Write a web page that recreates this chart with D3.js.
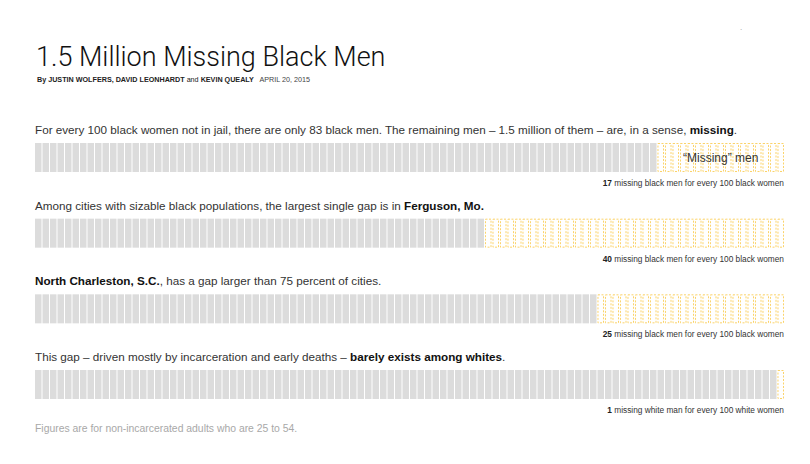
<!DOCTYPE html>
<html>
<head>
<meta charset="utf-8">
<script src="https://cdn.jsdelivr.net/npm/d3@7"></script>
<style>
  body { margin: 0; background: #fff; }
  svg text { font-family: "Liberation Sans", Arial, sans-serif; }
</style>
</head>
<body>
<svg id="chart" width="810" height="464"></svg>
<script>
// chart data
var groups = ["All black adults", "Ferguson, Mo.", "North Charleston, S.C.", "Whites"];
var menPer100 = [83, 60, 75, 99];
var missingPer100 = [17, 40, 25, 1];
var noteTexts = [
  " missing black men for every 100 black women",
  " missing black men for every 100 black women",
  " missing black men for every 100 black women",
  " missing white man for every 100 white women"
];
// sentence pieces: [text, bold?]
var sentences = [
  [["For every 100 black women not in jail, there are only 83 black men. The remaining men \u2013 1.5 million of them \u2013 are, in a sense, ", false], ["missing", true], [".", false]],
  [["Among cities with sizable black populations, the largest single gap is in ", false], ["Ferguson, Mo.", true]],
  [["North Charleston, S.C.", true], [", has a gap larger than 75 percent of cities.", false]],
  [["This gap \u2013 driven mostly by incarceration and early deaths \u2013 ", false], ["barely exists among whites", true], [".", false]]
];

var svg = d3.select("#chart");

// header
svg.append("text")
  .attr("x", 36).attr("y", 66)
  .style("font-family", "Roboto, sans-serif")
  .style("font-weight", 300)
  .style("font-size", "27px")
  .attr("fill", "#111")
  .text("1.5 Million Missing Black Men");

var by = svg.append("text")
  .attr("x", 37).attr("y", 82)
  .style("font-size", "7.2px")
  .attr("fill", "#222");
by.append("tspan").style("font-weight", "bold").text("By JUSTIN WOLFERS, DAVID LEONHARDT ");
by.append("tspan").text("and ");
by.append("tspan").style("font-weight", "bold").text("KEVIN QUEALY");
by.append("tspan").attr("fill", "#444").text("   APRIL 20, 2015").attr("xml:space", "preserve");

// scales
var x = d3.scaleBand()
  .domain(d3.range(100))
  .range([35, 784])
  .paddingInner(0.13);

var y = d3.scaleLinear()
  .domain([0, 3])
  .range([143, 370]);

var barH = 29;

var rowG = svg.selectAll("g.row")
  .data(groups)
  .enter().append("g")
  .attr("class", "row")
  .attr("transform", function(d, i){ return "translate(0," + y(i) + ")"; });

// sentence above each bar
rowG.append("text")
  .attr("x", 35)
  .attr("y", -9)
  .style("font-size", "11.7px")
  .attr("fill", "#333")
  .each(function(d, i){
    var t = d3.select(this);
    sentences[i].forEach(function(p){
      t.append("tspan")
        .style("font-weight", p[1] ? "bold" : "normal")
        .attr("fill", p[1] ? "#111" : "#333")
        .text(p[0]);
    });
  });

// cells
rowG.each(function(d, i){
  var g = d3.select(this);
  var cells = d3.range(100).map(function(k){ return {k: k, present: k < menPer100[i]}; });
  g.selectAll("rect.cell")
    .data(cells)
    .enter().append("rect")
    .attr("class", "cell")
    .attr("x", function(c){ return c.present ? x(c.k) : x(c.k) + 0.5; })
    .attr("y", function(c){ return c.present ? 0 : 0.5; })
    .attr("width", function(c){ return c.present ? x.bandwidth() : x.bandwidth() - 1; })
    .attr("height", function(c){ return c.present ? barH : barH - 1; })
    .attr("fill", function(c){ return c.present ? "#dcdcdc" : "#ffffff"; })
    .attr("stroke", function(c){ return c.present ? "none" : "#fbd36a"; })
    .attr("stroke-width", 1)
    .attr("stroke-dasharray", "2,1.5");
});

// "Missing" men label in the first bar
svg.append("text")
  .attr("x", (x(menPer100[0]) + x(99) + x.bandwidth()) / 2)
  .attr("y", y(0) + 19)
  .attr("text-anchor", "middle")
  .style("font-size", "12px")
  .attr("fill", "#333")
  .text("\u201cMissing\u201d men");

// notes below each bar
rowG.append("text")
  .attr("x", 784)
  .attr("y", barH + 14)
  .attr("text-anchor", "end")
  .style("font-size", "8.3px")
  .attr("fill", "#333")
  .each(function(d, i){
    var t = d3.select(this);
    t.append("tspan").style("font-weight", "bold").attr("fill", "#222").text(missingPer100[i]);
    t.append("tspan").text(noteTexts[i]);
  });

// footnote
svg.append("text")
  .attr("x", 35).attr("y", 432)
  .style("font-size", "10.4px")
  .attr("fill", "#a8a8a8")
  .text("Figures are for non-incarcerated adults who are 25 to 54.");

svg.append("text")
  .attr("x", 740).attr("y", 30)
  .style("font-size", "8px")
  .attr("fill", "#999")
  .text(".");
</script>
</body>
</html>
